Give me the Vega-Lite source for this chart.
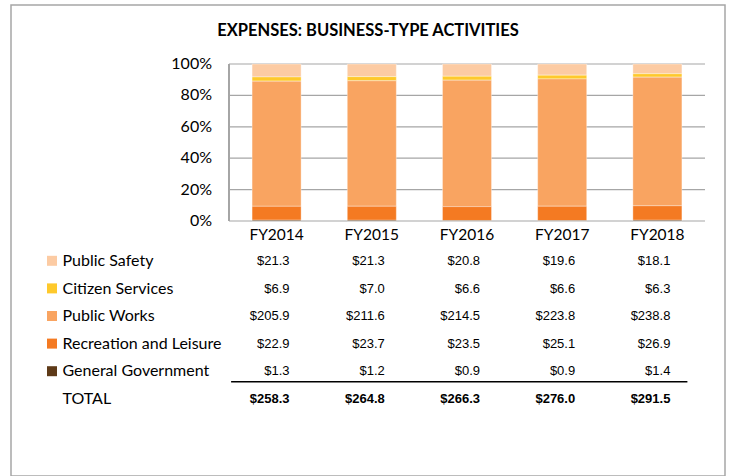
{
  "$schema": "https://vega.github.io/schema/vega-lite/v6.json",
  "width": 714,
  "height": 471,
  "autosize": {"type": "none"},
  "padding": {"left": 11, "top": 5, "right": 9, "bottom": 0},
  "background": "#ffffff",
  "config": {
    "view": {"stroke": "#a6a6a6", "strokeWidth": 1.5},
    "font": "Lato"
  },
  "title": {
    "text": "EXPENSES: BUSINESS-TYPE ACTIVITIES",
    "anchor": "middle",
    "frame": "group",
    "font": "Lato",
    "fontSize": 16.5,
    "fontWeight": "bold",
    "color": "#000000",
    "baseline": "alphabetic",
    "offset": -47
  },
  "datasets": {
    "expenses": [
      {"year": "FY2014", "category": "Public Safety", "amount": 21.3},
      {"year": "FY2014", "category": "Citizen Services", "amount": 6.9},
      {"year": "FY2014", "category": "Public Works", "amount": 205.9},
      {"year": "FY2014", "category": "Recreation and Leisure", "amount": 22.9},
      {"year": "FY2014", "category": "General Government", "amount": 1.3},
      {"year": "FY2015", "category": "Public Safety", "amount": 21.3},
      {"year": "FY2015", "category": "Citizen Services", "amount": 7.0},
      {"year": "FY2015", "category": "Public Works", "amount": 211.6},
      {"year": "FY2015", "category": "Recreation and Leisure", "amount": 23.7},
      {"year": "FY2015", "category": "General Government", "amount": 1.2},
      {"year": "FY2016", "category": "Public Safety", "amount": 20.8},
      {"year": "FY2016", "category": "Citizen Services", "amount": 6.6},
      {"year": "FY2016", "category": "Public Works", "amount": 214.5},
      {"year": "FY2016", "category": "Recreation and Leisure", "amount": 23.5},
      {"year": "FY2016", "category": "General Government", "amount": 0.9},
      {"year": "FY2017", "category": "Public Safety", "amount": 19.6},
      {"year": "FY2017", "category": "Citizen Services", "amount": 6.6},
      {"year": "FY2017", "category": "Public Works", "amount": 223.8},
      {"year": "FY2017", "category": "Recreation and Leisure", "amount": 25.1},
      {"year": "FY2017", "category": "General Government", "amount": 0.9},
      {"year": "FY2018", "category": "Public Safety", "amount": 18.1},
      {"year": "FY2018", "category": "Citizen Services", "amount": 6.3},
      {"year": "FY2018", "category": "Public Works", "amount": 238.8},
      {"year": "FY2018", "category": "Recreation and Leisure", "amount": 26.9},
      {"year": "FY2018", "category": "General Government", "amount": 1.4}
    ],
    "categories": [
      {"category": "Public Safety", "listOrder": 1},
      {"category": "Citizen Services", "listOrder": 2},
      {"category": "Public Works", "listOrder": 3},
      {"category": "Recreation and Leisure", "listOrder": 4},
      {"category": "General Government", "listOrder": 5}
    ],
    "totals": [
      {"year": "FY2014", "total": 258.3},
      {"year": "FY2015", "total": 264.8},
      {"year": "FY2016", "total": 266.3},
      {"year": "FY2017", "total": 276.0},
      {"year": "FY2018", "total": 291.5}
    ],
    "grid": [
      {"p": 0}, {"p": 0.2}, {"p": 0.4}, {"p": 0.6}, {"p": 0.8}, {"p": 1}
    ]
  },
  "layer": [
    {
      "data": {"name": "grid"},
      "layer": [
        {
          "mark": {"type": "rule", "color": "#a6a6a6", "strokeWidth": 1.2},
          "encoding": {
            "x": {"datum": 0, "type": "quantitative", "scale": {"domain": [0, 5], "range": [218, 694]}, "axis": null},
            "x2": {"datum": 5},
            "y": {"field": "p", "type": "quantitative", "scale": {"domain": [0, 1], "range": [216, 59]}, "axis": null}
          }
        },
        {
          "mark": {"type": "rule", "color": "#a6a6a6", "strokeWidth": 1.2},
          "encoding": {
            "x": {"datum": 0, "type": "quantitative"},
            "y": {"datum": 0, "type": "quantitative"},
            "y2": {"datum": 1}
          }
        },
        {
          "mark": {"type": "text", "align": "right", "baseline": "middle", "dx": -17, "font": "Lato", "fontSize": 16, "color": "#000000"},
          "encoding": {
            "x": {"datum": 0, "type": "quantitative"},
            "y": {"field": "p", "type": "quantitative"},
            "text": {"field": "p", "format": ".0%"}
          }
        }
      ]
    },
    {
      "layer": [
        {
          "data": {"name": "expenses"},
          "transform": [
            {"lookup": "category", "from": {"data": {"name": "categories"}, "key": "category", "fields": ["listOrder"]}}
          ],
          "mark": {"type": "bar", "stroke": "#ffffff", "strokeWidth": 0.5, "strokeOpacity": 0.7},
          "encoding": {
            "x": {"field": "year", "type": "nominal", "scale": {"type": "band", "range": [218, 694], "paddingInner": 0.485, "paddingOuter": 0.2425}, "axis": null},
            "y": {"field": "amount", "type": "quantitative", "stack": "normalize", "scale": {"range": [216, 59]}, "axis": null},
            "order": {"field": "listOrder", "type": "quantitative", "sort": "descending"},
            "color": {
              "field": "category",
              "type": "nominal",
              "sort": ["Public Safety", "Citizen Services", "Public Works", "Recreation and Leisure", "General Government"],
              "scale": {
                "domain": ["Public Safety", "Citizen Services", "Public Works", "Recreation and Leisure", "General Government"],
                "range": ["#fccba3", "#fec92c", "#f9a461", "#f47a22", "#5e3a18"]
              },
              "legend": {
                "orient": "none",
                "legendX": 36,
                "legendY": 250.8,
                "title": null,
                "padding": 0,
                "symbolType": "square",
                "symbolSize": 100,
                "symbolStrokeWidth": 0,
                "symbolOpacity": 1,
                "labelExpr": "''",
                "labelFontSize": 1,
                "rowPadding": 17.6
              }
            }
          }
        },
        {
          "data": {"name": "totals"},
          "mark": {"type": "text", "align": "center", "baseline": "middle", "dy": 14, "font": "Lato", "fontSize": 15.5, "color": "#000000"},
          "encoding": {
            "x": {"field": "year", "type": "nominal"},
            "y": {"datum": 0, "type": "quantitative"},
            "text": {"field": "year"}
          }
        }
      ]
    },
    {
      "layer": [
        {
          "data": {"name": "expenses"},
          "mark": {"type": "text", "align": "right", "baseline": "middle", "dx": 13, "font": "Liberation Sans", "fontSize": 13, "color": "#000000"},
          "encoding": {
            "x": {"field": "year", "type": "nominal", "scale": {"type": "band", "range": [218, 694], "paddingInner": 0.485, "paddingOuter": 0.2425}, "axis": null},
            "y": {
              "field": "category",
              "type": "nominal",
              "scale": {
                "type": "band",
                "domain": ["Public Safety", "Citizen Services", "Public Works", "Recreation and Leisure", "General Government", "TOTAL"],
                "range": [242.6, 407.4],
                "paddingInner": 0,
                "paddingOuter": 0
              },
              "axis": {
                "orient": "left",
                "title": null,
                "ticks": false,
                "tickSize": 0,
                "domain": false,
                "grid": false,
                "labelAlign": "left",
                "labelBaseline": "middle",
                "labelPadding": -51,
                "labelFont": "Lato",
                "labelFontSize": 16,
                "labelColor": "#000000",
                "labelLimit": 300
              }
            },
            "text": {"field": "amount", "format": "$.1f"}
          }
        },
        {
          "data": {"name": "totals"},
          "mark": {"type": "text", "align": "right", "baseline": "middle", "dx": 13, "font": "Liberation Sans", "fontSize": 13, "fontWeight": "bold", "color": "#000000"},
          "encoding": {
            "x": {"field": "year", "type": "nominal"},
            "y": {"datum": "TOTAL", "type": "nominal"},
            "text": {"field": "total", "format": "$.1f"}
          }
        },
        {
          "data": {"values": [{}]},
          "mark": {"type": "rule", "color": "#000000", "strokeWidth": 1.5, "xOffset": -45.5, "x2Offset": 30, "yOffset": -17},
          "encoding": {
            "x": {"datum": "FY2014", "type": "nominal"},
            "x2": {"datum": "FY2018"},
            "y": {"datum": "TOTAL", "type": "nominal"}
          }
        }
      ]
    }
  ],
  "resolve": {
    "scale": {"x": "independent", "y": "independent"},
    "axis": {"x": "independent", "y": "independent"}
  }
}
